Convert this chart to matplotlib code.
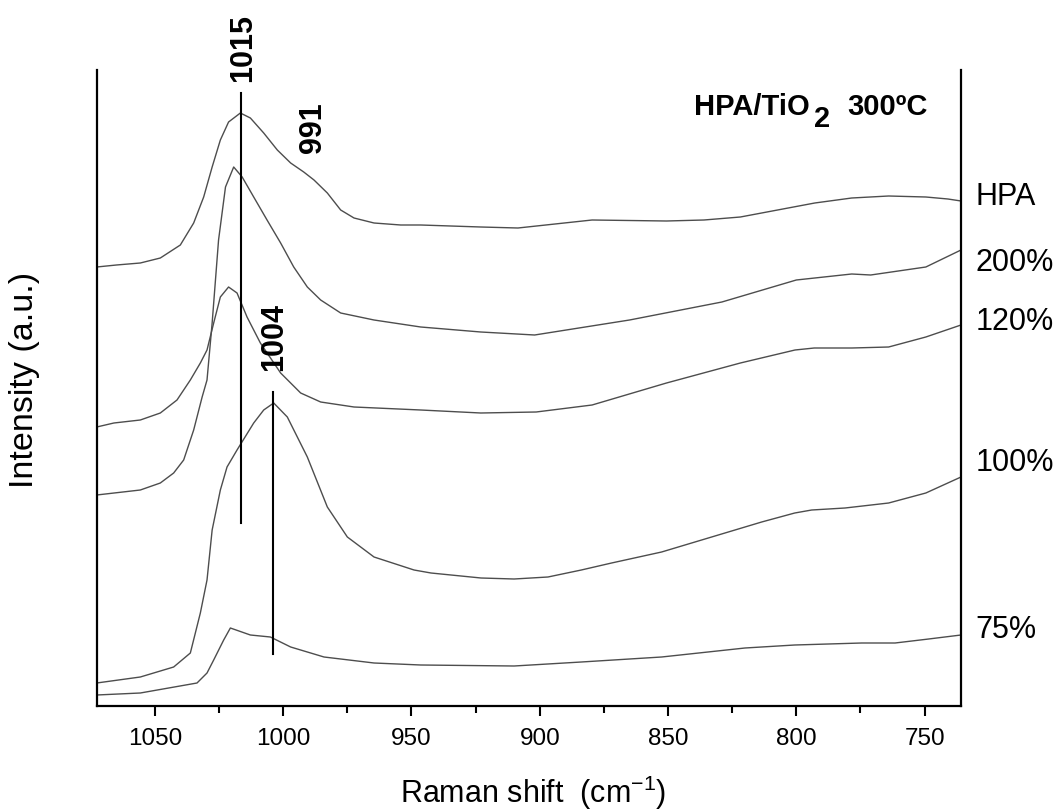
import numpy as np
import matplotlib
matplotlib.use("Agg")
import matplotlib.pyplot as plt
from matplotlib.ticker import MultipleLocator

plt.rcParams["font.family"] = ["Liberation Sans", "DejaVu Sans"]
plt.rcParams["mathtext.fontset"] = "custom"
plt.rcParams["mathtext.rm"] = "Liberation Sans"
plt.rcParams["mathtext.it"] = "Liberation Sans:italic"
plt.rcParams["mathtext.bf"] = "Liberation Sans:bold"

# --- spectra (Raman shift cm-1, intensity a.u.) ------------------------------

hpa_x = [1072.7, 1065, 1055.7, 1047.9, 1040.1, 1034.9, 1031, 1027.7, 1024.5, 1021.3,
         1016.7, 1012.8, 1007.6, 1002.3, 997.1, 992, 988, 982.8, 977.6, 972.4,
         964.6, 954.2, 946.4, 923, 908.5, 879.6, 850.6, 836, 821.8, 807.3,
         792.8, 778.4, 764, 749.5, 740.9, 735.8]
hpa_y = [439, 441, 443, 448, 461, 483, 509, 539, 566, 584,
         593, 588, 573, 556, 543, 534, 526, 513, 496, 488,
         483, 481, 481, 479, 478, 486, 485, 486, 489, 496,
         503, 508, 510, 509, 507, 505]

p200_x = [1072.7, 1055.7, 1047.9, 1042.7, 1038.8, 1034.9, 1031.6, 1029.7, 1027.7, 1025.2,
          1022.5, 1019.3, 1016, 1011.5, 1006.3, 1001, 995.9, 990.6, 985.4, 977.6,
          964.6, 946.4, 923, 902, 865, 829, 800, 778.4, 771, 749.5, 735.8]
p200_y = [211, 216, 223, 233, 246, 276, 309, 326, 383, 466,
          519, 539, 529, 509, 486, 463, 439, 419, 406, 393,
          386, 379, 374, 371, 386, 404, 426, 432, 431, 439, 456]

p120_x = [1072.7, 1066, 1055.7, 1047.9, 1041.4, 1036.2, 1032.3, 1029.7, 1027.1, 1024.5,
          1021.3, 1018, 1014.1, 1008.9, 1001, 993.2, 985.4, 972.4, 946.4, 923,
          901.4, 879.6, 850.6, 821.8, 800.5, 793, 778.3, 764, 749.5, 735.8]
p120_y = [279, 283, 286, 293, 306, 326, 343, 356, 383, 409,
          419, 413, 389, 363, 333, 313, 304, 299, 296, 293,
          294, 301, 323, 343, 356, 358, 358, 359, 369, 381]

p100_x = [1072.7, 1055.7, 1042.7, 1036.2, 1032.3, 1029.7, 1027.7, 1024.5, 1021.9, 1018,
          1011.5, 1007.6, 1003.7, 998.4, 990.6, 982.8, 975, 964.6, 949, 942.4,
          922.9, 910, 896.8, 883.8, 872, 852.5, 833, 813.5, 800.6, 794,
          781, 764, 749.5, 735.8]
p100_y = [23, 29, 39, 53, 93, 126, 176, 216, 239, 256,
          283, 296, 303, 289, 249, 199, 169, 149, 136, 133,
          128, 127, 129, 136, 143, 154, 169, 184, 193, 196,
          198, 203, 213, 229]

p75_x = [1072.7, 1055.7, 1033.6, 1029.7, 1027.1, 1023.2, 1020.6, 1012.8, 1005, 997.1,
         984.1, 964.6, 946.4, 910, 883.8, 852.5, 820, 800.6, 774.5, 761.5,
         748.4, 735.8]
p75_y = [11, 13, 23, 33, 46, 66, 78, 71, 69, 59,
         49, 43, 41, 40, 44, 49, 58, 61, 63, 63,
         67, 71]

series = [(hpa_x, hpa_y), (p200_x, p200_y), (p120_x, p120_y),
          (p100_x, p100_y), (p75_x, p75_y)]
series_labels = ["HPA", "200%", "120%", "100%", "75%"]
label_y = [509, 443, 384, 243, 76]

# band markers: position, line bottom/top, label text, label position
band_pos = [1016.5, 1004.1]
band_lo = [183, 52]
band_hi = [613, 314]
band_text = ["1015", "991", "1004"]
band_text_x = [1015.5, 988.4, 1003.4]
band_text_y = [658, 578, 369]

xticks = [1050, 1000, 950, 900, 850, 800, 750]

# --- figure -------------------------------------------------------------------

fig = plt.figure(figsize=(10.6, 8.1), dpi=100)
ax = fig.add_axes([96.7 / 1060, 104 / 810, (961 - 96.7) / 1060, 636 / 810])

for (xs, ys) in series:
    ax.plot(xs, ys, color="#4d4d4d", lw=1.0)

for pos, lo, hi in zip(band_pos, band_lo, band_hi):
    ax.plot([pos, pos], [lo, hi], color="black", lw=1.5, clip_on=False)

for txt, tx, ty in zip(band_text, band_text_x, band_text_y):
    ax.text(tx, ty, txt, rotation=90, ha="center", va="center",
            fontsize=22, fontweight="bold", clip_on=False)

trans = ax.get_yaxis_transform()
for lab, ly in zip(series_labels, label_y):
    ax.text(1.017, ly, lab, transform=trans, ha="left", va="center",
            fontsize=22, clip_on=False)

# sample title with full-size lowered subscript
ax.text(839.7, 591, "HPA/TiO", ha="left", va="baseline", fontsize=21, fontweight="bold")
ax.text(793.2, 579, "2", ha="left", va="baseline", fontsize=21, fontweight="bold")
ax.text(780, 591, "300ºC", ha="left", va="baseline", fontsize=21, fontweight="bold")

ax.set_xlim(1072.7, 735.8)
ax.set_ylim(0, 636)
ax.xaxis.set_minor_locator(MultipleLocator(25))
ax.set_xticks(xticks)
ax.set_xticklabels([str(t) for t in xticks])
ax.tick_params(axis="x", which="major", direction="out", length=7, width=1.5,
               labelsize=17.5, pad=9)
ax.tick_params(axis="x", which="minor", direction="out", length=5, width=1.5)
ax.set_yticks([])

ax.spines["top"].set_visible(False)
for side in ("left", "right", "bottom"):
    ax.spines[side].set_linewidth(1.6)

fig.text(25 / 1060, 1 - 380 / 810, "Intensity (a.u.)", rotation=90,
         ha="center", va="center", fontsize=24.5)
fig.text(533 / 1060, 1 - 803 / 810, "Raman shift  (cm$^{-1}$)",
         ha="center", va="baseline", fontsize=22)

fig.savefig("out.png", dpi=100)
